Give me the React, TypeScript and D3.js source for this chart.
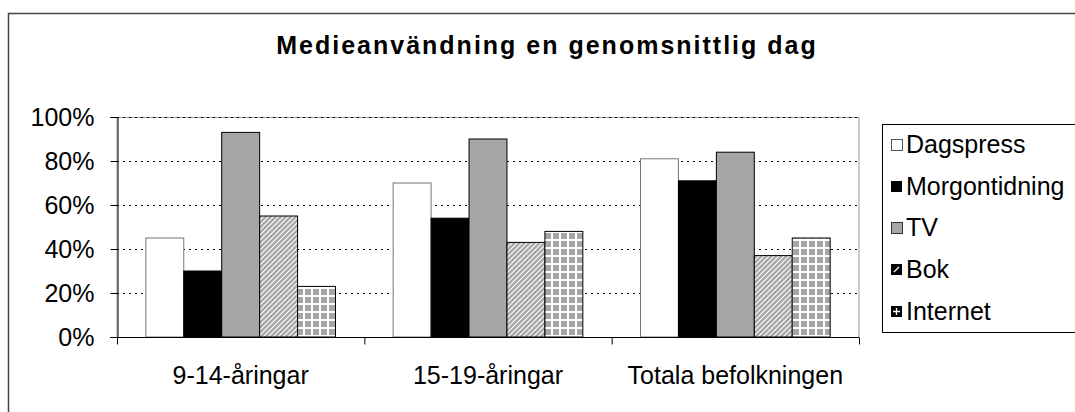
import React, { useEffect, useRef } from "react";
import * as d3 from "d3";

const categories = ["9-14-åringar", "15-19-åringar", "Totala befolkningen"];
const series = ["Dagspress", "Morgontidning", "TV", "Bok", "Internet"];
const dagspress = [45, 70, 81];
const morgontidning = [30, 54, 71];
const tv = [93, 90, 84];
const bok = [55, 43, 37];
const internet = [23, 48, 45];
const yTicks = [0, 20, 40, 60, 80, 100];

const values = [dagspress, morgontidning, tv, bok, internet];

function App() {
  const svgRef = useRef<SVGSVGElement>(null);

  const width = 1075;
  const height = 412;
  const font = "'Liberation Sans', Arial, sans-serif";

  useEffect(() => {
    const svg = d3.select(svgRef.current);
    svg.selectAll("*").remove();

    const left = 117, right = 859, top = 117, bottom = 337;

    // patterns for Bok (diagonal) and Internet (grid)
    const defs = svg.append("defs");
    const stripe = defs.append("pattern").attr("id", "bok").attr("patternUnits", "userSpaceOnUse")
      .attr("width", 5).attr("height", 5);
    stripe.append("rect").attr("width", 5).attr("height", 5).attr("fill", "#a6a6a6");
    stripe.append("path").attr("d", "M-1,1 L1,-1 M0,5 L5,0 M4,6 L6,4")
      .attr("stroke", "#fff").attr("stroke-width", 1.2);

    const grid = defs.append("pattern").attr("id", "net").attr("patternUnits", "userSpaceOnUse")
      .attr("width", 8).attr("height", 8);
    grid.append("rect").attr("width", 8).attr("height", 8).attr("fill", "#fff");
    grid.append("rect").attr("x", 1).attr("y", 1).attr("width", 6).attr("height", 6).attr("fill", "#a6a6a6");

    const fills = ["#ffffff", "#000000", "#a6a6a6", "url(#bok)", "url(#net)"];
    const strokes = ["#777", "#000", "#000", "#000", "#000"];

    // outer frame
    svg.append("rect").attr("x", 8.5).attr("y", 13.5).attr("width", 1100).attr("height", 420)
      .attr("fill", "#fff").attr("stroke", "#444").attr("stroke-width", 1.5);

    svg.append("text").attr("x", 547).attr("y", 54).attr("text-anchor", "middle")
      .attr("font-family", font).attr("font-size", 25).attr("font-weight", "bold")
      .attr("letter-spacing", 2).text("Medieanvändning en genomsnittlig dag");

    const y = d3.scaleLinear().domain([0, 100]).range([bottom, top]);
    const x0 = d3.scaleBand().domain(categories).range([left, right]).padding(0);
    const x1 = d3.scaleBand().domain(series).range([0, x0.bandwidth()]).paddingInner(0).paddingOuter(0.76);

    // plot frame
    svg.append("rect").attr("x", left).attr("y", top + 0.5).attr("width", right - left).attr("height", bottom - top)
      .attr("fill", "none").attr("stroke", "#999");

    svg.selectAll(".grid").data(yTicks.filter(t => t > 0)).join("line")
      .attr("class", "grid")
      .attr("x1", left).attr("x2", right)
      .attr("y1", d => Math.round(y(d)) + 0.5).attr("y2", d => Math.round(y(d)) + 0.5)
      .attr("stroke", "#000").attr("stroke-dasharray", "2,4");

    // bars
    series.forEach((s, si) => {
      svg.append("g").selectAll("rect").data(categories).join("rect")
        .attr("x", c => x0(c)! + x1(s)!)
        .attr("y", (c, i) => y(values[si][i]))
        .attr("width", x1.bandwidth())
        .attr("height", (c, i) => bottom - y(values[si][i]))
        .attr("fill", fills[si]).attr("stroke", strokes[si]).attr("stroke-width", 1);
    });

    // y axis
    const yAxis = svg.append("g").attr("transform", `translate(${left + 0.5},0)`)
      .call(d3.axisLeft(y).tickValues(yTicks).tickSize(7).tickPadding(16).tickFormat(d => `${d}%`));
    yAxis.selectAll("text").attr("font-family", font).attr("font-size", 25).attr("fill", "#000");
    yAxis.selectAll("line,path").attr("stroke", "#000");

    // x axis
    const xAxis = svg.append("g").attr("transform", `translate(0,${bottom + 0.5})`);
    xAxis.append("line").attr("x1", left - 7).attr("x2", right).attr("stroke", "#000");
    xAxis.selectAll(".tk").data([...categories.map(c => x0(c)!), right]).join("line")
      .attr("class", "tk").attr("x1", d => d + 0.5).attr("x2", d => d + 0.5).attr("y1", 0).attr("y2", 7)
      .attr("stroke", "#000");
    xAxis.selectAll(".lbl").data(categories).join("text")
      .attr("class", "lbl").attr("x", c => x0(c)! + x0.bandwidth() / 2).attr("y", 46)
      .attr("text-anchor", "middle").attr("font-family", font).attr("font-size", 25).text(c => c);

    // legend
    svg.append("rect").attr("x", 882.5).attr("y", 124.5).attr("width", 250).attr("height", 208)
      .attr("fill", "#fff").attr("stroke", "#000");
    const legendFills = ["#ffffff", "#000000", "#a6a6a6", "#000", "#000"];
    const ly = d3.scalePoint().domain(series).range([144, 310.5]);
    const lg = svg.append("g").selectAll("g").data(series).join("g")
      .attr("transform", s => `translate(891,${Math.round(ly(s)!)})`);
    lg.append("rect").attr("x", 0).attr("y", -5).attr("width", 11).attr("height", 11)
      .attr("fill", (s, i) => legendFills[i]).attr("stroke", (s, i) => i === 0 ? "#555" : i === 2 ? "#333" : "none")
      .attr("shape-rendering", "crispEdges");
    // hatch marks on the small swatches
    lg.filter((s, i) => i === 3).append("path").attr("d", "M3,3 L8,-2").attr("stroke", "#fff").attr("stroke-width", 1.3);
    lg.filter((s, i) => i === 4).append("path").attr("d", "M5.5,-3 V4 M2,0.5 H9").attr("stroke", "#fff").attr("stroke-width", 1.3);
    lg.append("text").attr("x", 15).attr("y", 9).attr("font-family", font).attr("font-size", 25).text(s => s);
  }, []);

  return (
    <svg ref={svgRef} width={width} height={height}
      style={{ position: "absolute", left: 0, top: 0, background: "#fff" }} />
  );
}

export default App;
